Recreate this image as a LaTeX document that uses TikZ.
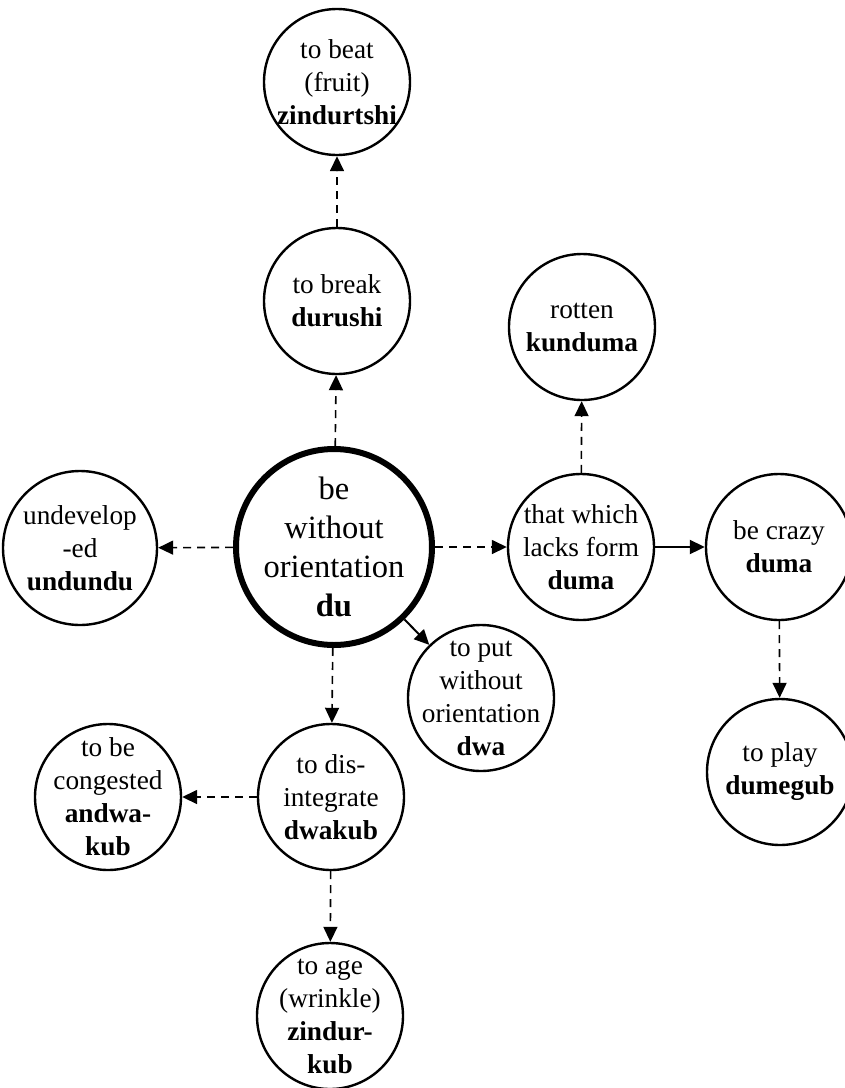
\documentclass[tikz,border=0pt]{standalone}
\usepackage{fontspec}
\setmainfont{Liberation Serif}
\usetikzlibrary{arrows.meta}

\tikzset{
  x=1pt, y=-1pt,
  concept/.style={circle, draw, line width=2.4pt, minimum size=146pt, inner sep=0pt},
  root/.style={concept, line width=6pt, minimum size=196pt},
  txt/.style={align=center, inner sep=0pt, font=\fontsize{27.3}{33}\selectfont},
  bigtxt/.style={align=center, inner sep=0pt, font=\fontsize{32.5}{39}\selectfont},
  derive/.style={line width=1.6pt, dash pattern=on 8pt off 6pt,
    -{Triangle[length=15pt,width=14pt]}},
  direct/.style={line width=2pt, -{Triangle[length=15pt,width=14pt]}},
}

\begin{document}
\begin{tikzpicture}
\useasboundingbox (0,0) rectangle (845,1088);
\clip (0,0) rectangle (845,1088);

% root meaning
\node[root, label={[bigtxt]center:{be\\without\\orientation\\\textbf{du}}}] (du) at (334,547) {};

% derived meanings
\node[concept, label={[txt]center:{to beat\\(fruit)\\\textbf{zindurtshi}}}] (beat) at (337,82) {};
\node[concept, label={[txt]center:{to break\\\textbf{durushi}}}] (break) at (337,301) {};
\node[concept, minimum size=154pt, label={[txt]center:{undevelop\\-ed\\\textbf{undundu}}}] (undev) at (80,548) {};
\node[concept, label={[txt]center:{rotten\\\textbf{kunduma}}}] (rotten) at (582,327) {};
\node[concept, label={[txt]center:{that which\\lacks form\\\textbf{duma}}}] (form) at (581,547) {};
\node[concept, label={[txt]center:{be crazy\\\textbf{duma}}}] (crazy) at (779,547) {};
\node[concept, label={[txt]center:{to put\\without\\orientation\\\textbf{dwa}}}] (put) at (481,698) {};
\node[concept, label={[txt]center:{to dis-\\integrate\\\textbf{dwakub}}}] (disint) at (331,797) {};
\node[concept, label={[txt]center:{to be\\congested\\\textbf{andwa-}\\\textbf{kub}}}] (congest) at (108,797) {};
\node[concept, label={[txt]center:{to play\\\textbf{dumegub}}}] (play) at (780,772) {};
\node[concept, label={[txt]center:{to age\\(wrinkle)\\\textbf{zindur-}\\\textbf{kub}}}] (age) at (330,1016) {};

% connectors
\draw[derive] (du) -- (break);
\draw[derive] (break) -- (beat);
\draw[derive] (du) -- (undev);
\draw[derive] (du) -- (form);
\draw[derive] (form) -- (rotten);
\draw[direct] (form) -- (crazy);
\draw[derive] (crazy) -- (play);
\draw[direct] (du) -- (put);
\draw[derive] (du) -- (disint);
\draw[derive] (disint) -- (congest);
\draw[derive] (disint) -- (age);
\end{tikzpicture}
\end{document}
